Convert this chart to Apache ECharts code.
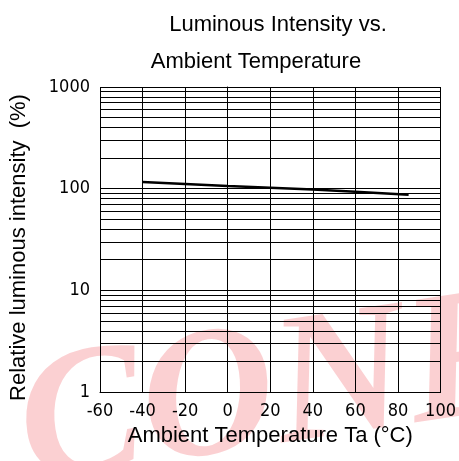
<!DOCTYPE html>
<html><head><meta charset="utf-8">
<script src="https://cdn.jsdelivr.net/npm/echarts@6/dist/echarts.min.js"></script>
<style>html,body{margin:0;padding:0;background:#fff}#c{width:459px;height:461px}</style>
</head><body><div id="c"></div>
<script>
const temperatures = [-40, -20, 0, 20, 40, 60, 85];
const relIntensity = [116, 111, 106, 102, 98, 93, 87];
const minorGridValues = [2,3,4,5,6,7,8,9,20,30,40,50,60,70,80,90,200,300,400,500,600,700,800,900];
const xTicks = [-60, -40, -20, 0, 20, 40, 60, 80, 100];
const yTicks = [1, 10, 100, 1000];

const chart = echarts.init(document.getElementById('c'));
const tickFont = {fontFamily: 'DejaVu Sans Condensed, Liberation Sans, sans-serif', fontSize: 18, fontWeight: 'lighter', color: '#000'};
const textFont = {fontFamily: 'Liberation Sans', fontSize: 22, fontWeight: 'normal', color: '#000'};
chart.setOption({
  backgroundColor: '#fff',
  animation: false,
  title: [
    {text: 'Luminous Intensity vs.', left: 273, top: 9, textAlign: 'center', textStyle: textFont},
    {text: 'Ambient Temperature', left: 251, top: 46, textAlign: 'center', textStyle: textFont}
  ],
  graphic: [{
    type: 'text', silent: true, z: 0,
    x: 35, y: 525, rotation: 0.15,
    style: {text: 'CONFIDENTIAL', fontSize: 185, fontStyle: 'italic', fontWeight: 'bold',
      fontFamily: 'Liberation Serif', verticalAlign: 'bottom', align: 'left',
      fill: 'rgba(235,40,50,0.22)'}
  }],
  grid: {left: 100, right: 16, top: 87, bottom: 69, containLabel: false},
  xAxis: {
    type: 'value', min: -60, max: 100, interval: 20,
    name: 'Ambient Temperature Ta (°C)', nameLocation: 'middle', nameGap: 33,
    nameTextStyle: textFont,
    axisLine: {show: true, lineStyle: {color: '#000', width: 1}},
    axisTick: {show: false},
    axisLabel: Object.assign({margin: 10, formatter: v => xTicks.includes(v) ? String(v) : ''}, tickFont),
    splitLine: {show: true, lineStyle: {color: '#000', width: 1}}
  },
  yAxis: {
    type: 'log', logBase: 10, min: 1, max: 1000,
    name: 'Relative luminous intensity  (%)', nameLocation: 'middle', nameGap: 70,
    nameTextStyle: Object.assign({padding: [0, 16, 0, 0]}, textFont),
    axisLine: {show: true, lineStyle: {color: '#000', width: 1}},
    axisTick: {show: false},
    axisLabel: Object.assign({margin: 10, formatter: v => yTicks.includes(v) ? String(v) : ''}, tickFont),
    splitLine: {show: true, lineStyle: {color: '#000', width: 1}}
  },
  series: [{
    type: 'line', data: temperatures.map((t, i) => [t, relIntensity[i]]),
    showSymbol: false, lineStyle: {color: '#000', width: 2.5}, z: 5,
    markLine: {
      silent: true, symbol: 'none', label: {show: false},
      lineStyle: {color: '#000', width: 1, type: 'solid'},
      data: minorGridValues.map(v => ({yAxis: v}))
    }
  }]
});
</script></body></html>
